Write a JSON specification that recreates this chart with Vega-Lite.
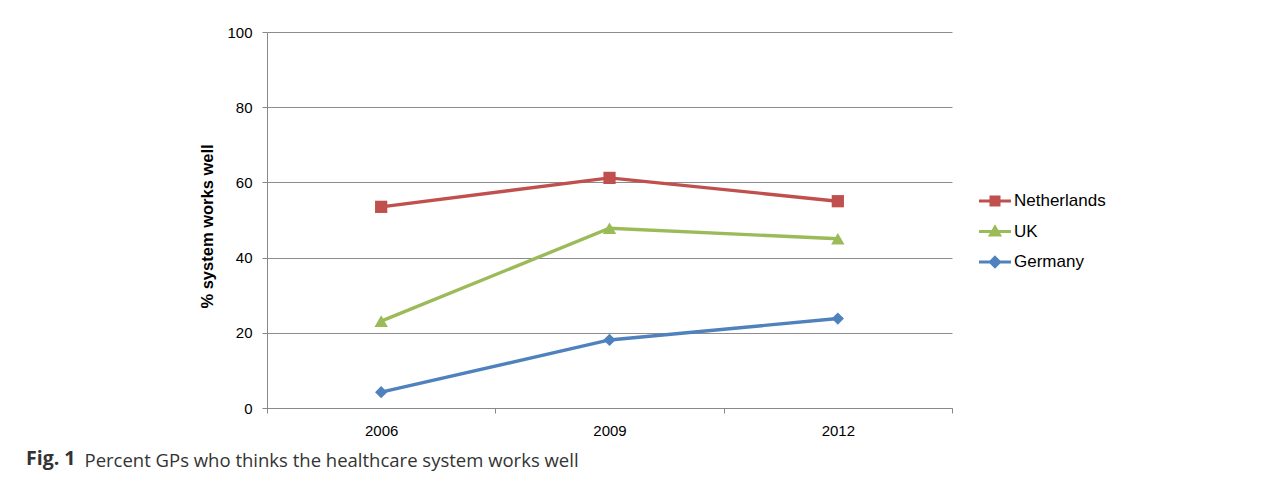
{
  "$schema": "https://vega.github.io/schema/vega-lite/v6.json",
  "autosize": {"type": "none"},
  "padding": {"left": 267, "top": 32, "right": 335, "bottom": 72},
  "width": 685,
  "height": 376,
  "background": "white",
  "config": {
    "font": "Liberation Sans",
    "view": {"stroke": null}
  },
  "title": {
    "text": "Fig. 1",
    "orient": "bottom",
    "anchor": "start",
    "frame": "group",
    "font": "Open Sans",
    "fontWeight": "bold",
    "fontSize": 19.5,
    "color": "#333333",
    "baseline": "alphabetic",
    "dx": -241,
    "offset": -5
  },
  "data": {
    "values": [
      {"country": "Netherlands", "year": "2006", "pct": 53.5},
      {"country": "Netherlands", "year": "2009", "pct": 61.2},
      {"country": "Netherlands", "year": "2012", "pct": 55.0},
      {"country": "UK", "year": "2006", "pct": 23.1},
      {"country": "UK", "year": "2009", "pct": 47.8},
      {"country": "UK", "year": "2012", "pct": 45.0},
      {"country": "Germany", "year": "2006", "pct": 4.2},
      {"country": "Germany", "year": "2009", "pct": 18.1},
      {"country": "Germany", "year": "2012", "pct": 23.8}
    ]
  },
  "encoding": {
    "x": {
      "field": "year",
      "type": "ordinal",
      "bandPosition": 0.5,
      "scale": {"type": "band", "paddingInner": 0, "paddingOuter": 0},
      "axis": {
        "labelAngle": 0,
        "tickBand": "extent",
        "tickSize": 5,
        "tickColor": "#888888",
        "domainColor": "#888888",
        "labelFontSize": 15,
        "labelColor": "#000000",
        "labelPadding": 10,
        "grid": false,
        "title": "Percent GPs who thinks the healthcare system works well",
        "titleFont": "Open Sans",
        "titleFontWeight": "normal",
        "titleFontSize": 18.5,
        "titleColor": "#333333",
        "titleAlign": "left",
        "titleBaseline": "alphabetic",
        "titleX": -183,
        "titleY": 58
      }
    },
    "y": {
      "field": "pct",
      "type": "quantitative",
      "scale": {"domain": [0, 100], "nice": false, "zero": true},
      "axis": {
        "values": [0, 20, 40, 60, 80, 100],
        "tickSize": 5,
        "tickColor": "#888888",
        "domainColor": "#888888",
        "gridColor": "#8c8c8c",
        "gridWidth": 1,
        "labelFontSize": 15,
        "labelColor": "#000000",
        "labelPadding": 10,
        "title": "% system works well",
        "titleFontSize": 16.5,
        "titleFontWeight": "bold",
        "titleColor": "#000000",
        "titlePadding": 11,
        "titleY": 194
      }
    },
    "color": {
      "field": "country",
      "type": "nominal",
      "scale": {
        "domain": ["Netherlands", "UK", "Germany"],
        "range": ["#C0504D", "#9BBB59", "#4F81BD"]
      },
      "legend": {
        "title": null,
        "orient": "none",
        "legendX": 713,
        "legendY": 154,
        "padding": 0,
        "rowPadding": 5.5,
        "symbolSize": 711,
        "symbolStrokeWidth": 3,
        "labelFontSize": 17,
        "labelColor": "#000000",
        "labelOffset": 4,
        "encode": {
          "symbols": {
            "update": {
              "shape": {"signal": "datum.value === 'Netherlands' ? 'M-1.2,0H1.2M-0.3,-0.3H0.3V0.3H-0.3Z' : datum.value === 'UK' ? 'M-1.2,0H1.2M-0.34,0.27L0,-0.32L0.34,0.27Z' : 'M-1.2,0H1.2M0,-0.34L0.34,0L0,0.34L-0.34,0Z'"},
              "fill": {"signal": "scale('color', datum.value)"},
              "stroke": {"signal": "scale('color', datum.value)"},
              "strokeWidth": {"value": 3},
              "opacity": {"value": 1},
              "size": {"value": 711}
            }
          }
        }
      }
    }
  },
  "layer": [
    {
      "mark": {"type": "line", "strokeWidth": 3.4}
    },
    {
      "transform": [{"filter": "datum.country === 'Netherlands'"}],
      "mark": {"type": "point", "shape": "square", "filled": true, "opacity": 1, "size": 150}
    },
    {
      "transform": [{"filter": "datum.country === 'UK'"}],
      "mark": {"type": "point", "shape": "triangle-up", "filled": true, "opacity": 1, "size": 180}
    },
    {
      "transform": [{"filter": "datum.country === 'Germany'"}],
      "mark": {"type": "point", "shape": "diamond", "filled": true, "opacity": 1, "size": 150}
    }
  ]
}
